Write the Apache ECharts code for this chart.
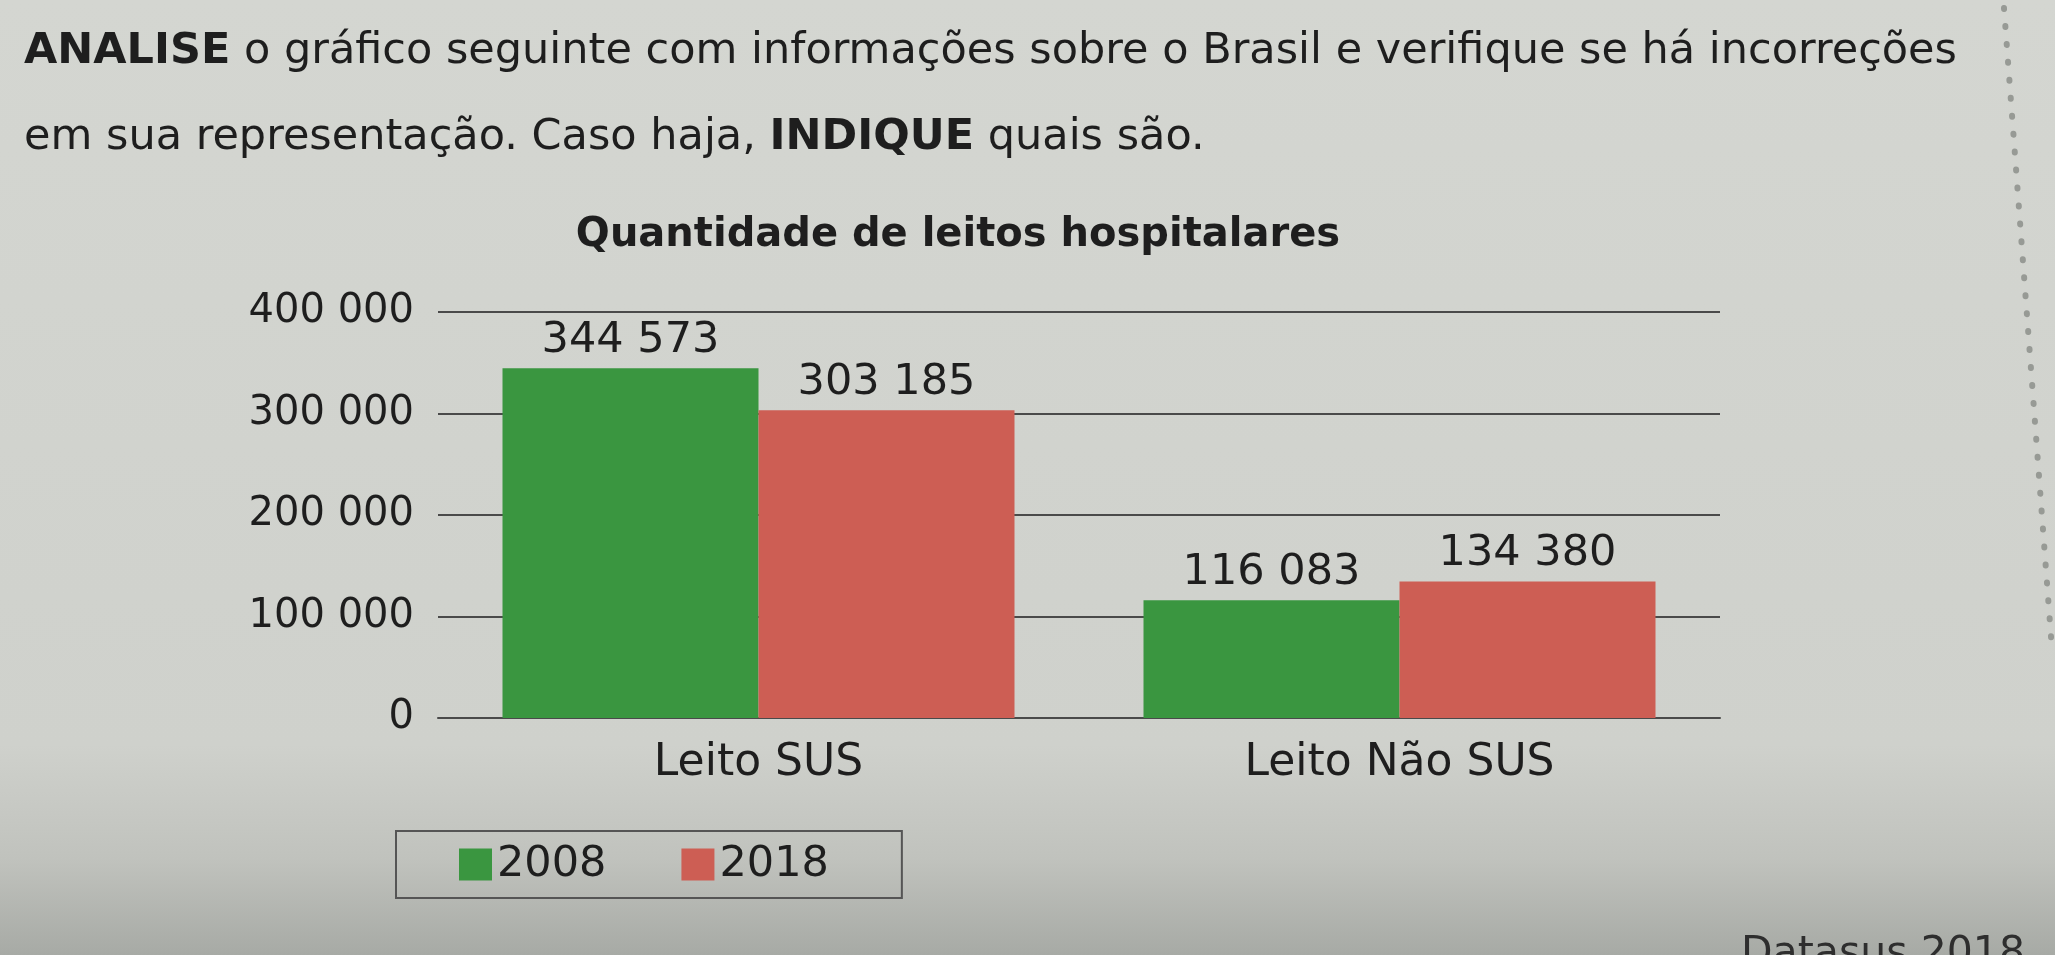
<!DOCTYPE html>
<html>
<head>
<meta charset="utf-8">
<script src="https://cdn.jsdelivr.net/npm/echarts@6/dist/echarts.min.js"></script>
<style>
html,body{margin:0;padding:0;}
#chart{width:2055px;height:955px;}
</style>
</head>
<body>
<div id="chart"></div>
<script>
const categories = ['Leito SUS', 'Leito Não SUS'];
const seriesNames = ['2008', '2018'];
const values2008 = [344573, 116083];
const values2018 = [303185, 134380];
const yMin = 0, yMax = 400000, yInterval = 100000;
const chartTitle = 'Quantidade de leitos hospitalares';
const questionText = '{b|ANALISE} o gráfico seguinte com informações sobre o Brasil e verifique se há incorreções\nem sua representação. Caso haja, {b|INDIQUE} quais são.';
const sourceText = 'Datasus 2018';

const FONT = 'DejaVu Sans';
const fmt = v => String(v).replace(/\B(?=(\d{3})+(?!\d))/g, ' ');

const chart = echarts.init(document.getElementById('chart'), null, {renderer: 'canvas'});
chart.setOption({
  backgroundColor: {
    type: 'linear', x: 0, y: 0, x2: 0, y2: 1,
    colorStops: [
      {offset: 0, color: '#d4d6d1'},
      {offset: 0.78, color: '#cfd1cc'},
      {offset: 0.9, color: '#c0c2bd'},
      {offset: 1, color: '#a7aaa5'}
    ]
  },
  animation: false,
  textStyle: {fontFamily: FONT},
  graphic: [
    {
      type: 'text', left: 24, top: 9,
      style: {
        text: questionText, fontFamily: FONT, fontSize: 43, lineHeight: 86,
        fill: '#1e1e1e',
        rich: {b: {fontFamily: FONT, fontSize: 43, fontWeight: 'bold', fill: '#1e1e1e', lineHeight: 86}}
      }
    },
    {
      type: 'text', x: 958, y: 236,
      style: {
        text: chartTitle, fontFamily: FONT, fontSize: 40, fontWeight: 'bold',
        fill: '#1e1e1e', align: 'center', verticalAlign: 'middle'
      }
    },
    {
      type: 'text', x: 1741, y: 934,
      style: {text: sourceText, fontFamily: FONT, fontSize: 41, fill: '#2e2e2e', verticalAlign: 'top'}
    },
    {
      type: 'line',
      shape: {x1: 2004, y1: 8, x2: 2052, y2: 650},
      style: {stroke: '#979a95', lineWidth: 6, lineDash: [1, 17], lineCap: 'round'}
    }
  ],
  legend: {
    data: seriesNames,
    left: 396, top: 831,
    orient: 'horizontal',
    icon: 'rect',
    itemWidth: 33, itemHeight: 32, itemGap: 75,
    borderColor: '#555', borderWidth: 2,
    padding: [12, 73, 12, 63],
    textStyle: {fontFamily: FONT, fontSize: 43, color: '#1e1e1e'}
  },
  grid: {left: 438, right: 335, top: 312, bottom: 237, containLabel: false},
  xAxis: {
    type: 'category',
    data: categories,
    axisLine: {show: true, lineStyle: {color: '#4a4a4a', width: 2}},
    axisTick: {show: false},
    axisLabel: {fontFamily: FONT, fontSize: 44, color: '#1e1e1e', margin: 24}
  },
  yAxis: {
    type: 'value',
    min: yMin, max: yMax, interval: yInterval,
    axisLine: {show: false},
    axisTick: {show: false},
    splitLine: {lineStyle: {color: '#4a4a4a', width: 2}},
    axisLabel: {fontFamily: FONT, fontSize: 40, color: '#1e1e1e', margin: 24, formatter: fmt}
  },
  series: [
    {
      name: seriesNames[0], type: 'bar', data: values2008,
      barWidth: 256, barGap: '0%',
      itemStyle: {color: '#3a9640'},
      label: {show: true, position: 'top', distance: 6, fontFamily: FONT, fontSize: 43, color: '#1e1e1e',
        formatter: p => fmt(p.value)}
    },
    {
      name: seriesNames[1], type: 'bar', data: values2018,
      barWidth: 256, barGap: '0%',
      itemStyle: {color: '#cd5e54'},
      label: {show: true, position: 'top', distance: 6, fontFamily: FONT, fontSize: 43, color: '#1e1e1e',
        formatter: p => fmt(p.value)}
    }
  ]
});
</script>
</body>
</html>
